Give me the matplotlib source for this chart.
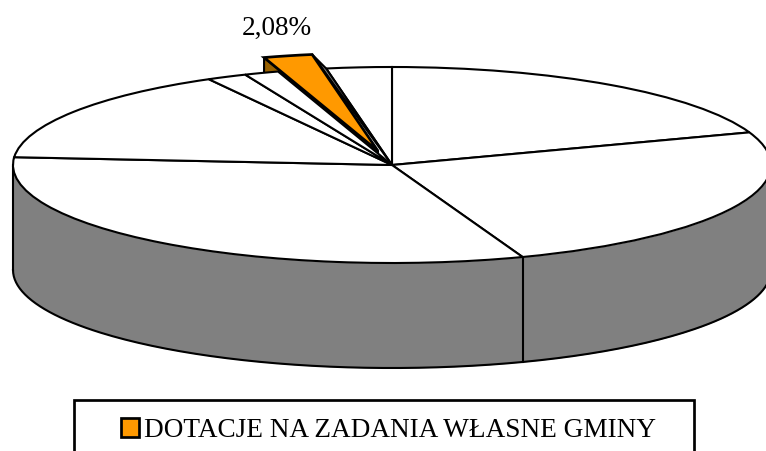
"""Exploded 3D-style pie with one highlighted slice, drawn from the slice shares."""
import matplotlib
matplotlib.use("Agg")
import matplotlib.pyplot as plt
import numpy as np
from matplotlib.patches import Patch, Polygon, Rectangle, Wedge
from matplotlib.transforms import Affine2D

plt.rcParams["font.family"] = ["Liberation Serif", "DejaVu Serif"]

# shares in percent, clockwise from 12 o'clock
shares = [19.6, 24.8, 31.87, 15.7, 1.7, 1.47, 2.08, 2.78]
highlight = 6
highlight_label = "2,08%"
legend_label = "DOTACJE NA ZADANIA WŁASNE GMINY"

W, H = 766, 451
CX, CY = 392, H - 165
RX, RY = 379, 98
DEPTH = 105
EXPLODE = (-14, 14)
LW = 1.5
FS = 19.6
ORANGE = "#FF9900"
BROWN = "#996100"
GREY = "#808080"

fig = plt.figure(figsize=(W / 100, H / 100), dpi=100)
ax = fig.add_axes([0, 0, 1, 1])
ax.set_xlim(0, W)
ax.set_ylim(0, H)
ax.axis("off")

edges = 90 - np.cumsum([0] + shares) * 3.6


def rim(t, dx=0, dy=0):
    t = np.radians(t)
    return CX + dx + RX * np.cos(t), CY + dy + RY * np.sin(t)


# side wall of the disc
t = np.linspace(180, 360, 200)
x, y = rim(t)
ax.fill_between(x, y - DEPTH, y, color=GREY, lw=0, zorder=1)
ax.plot(x, y - DEPTH, color="k", lw=LW, zorder=2)
ax.plot([x[0], x[0]], [y[0], y[0] - DEPTH], color="k", lw=LW, zorder=2)
for e in edges[1:-1]:
    if np.sin(np.radians(e)) < 0:
        ex, ey = rim(e)
        ax.plot([ex, ex], [ey, ey - DEPTH], color="k", lw=LW, zorder=2)

unit = Affine2D().scale(RX, RY).translate(CX, CY)
shift = Affine2D().translate(*EXPLODE)

# cut faces of the highlighted slice, the top faces hide most of them
t1, t2 = edges[highlight + 1], edges[highlight]
lx, ly = rim(t2, *EXPLODE)
ax_, ay_ = CX + EXPLODE[0], CY + EXPLODE[1]
ax.add_patch(Polygon([(lx, ly), (lx, ly - DEPTH), (ax_, ay_ - DEPTH), (ax_, ay_)],
                     fc=BROWN, ec="k", lw=LW, zorder=2))
ox, oy = rim(t1, *EXPLODE)

# top faces
for i, (a, b) in enumerate(zip(edges[1:], edges[:-1])):
    if i == highlight:
        continue
    ax.add_patch(Wedge((0, 0), 1, a, b, fc="white", ec="k", lw=LW,
                       transform=unit + ax.transData, zorder=4))
gx, gy = rim(t1)
ax.add_patch(Polygon([(gx, gy), (CX, CY), (ox, oy)], fc=GREY, ec="k", lw=LW, zorder=4.5))
ax.add_patch(Wedge((0, 0), 1, t1, t2, fc=ORANGE, ec="k", lw=LW * 1.3,
                   transform=unit + shift + ax.transData, zorder=5))

ax.text(277, H - 28, highlight_label, fontsize=FS, ha="center", va="center", color="k")

# legend frame runs off the bottom of the picture
ax.add_patch(Rectangle((74, -20), 620, H - 400 + 20, fc="white", ec="k", lw=LW * 1.3, zorder=1))
ax.legend(handles=[Patch(fc=ORANGE, ec="k", lw=LW * 1.3, label=legend_label)],
          loc="upper left", bbox_to_anchor=(121, H - 418), bbox_transform=ax.transData,
          fontsize=FS, frameon=False, borderaxespad=0, borderpad=0,
          handlelength=0.65, handleheight=0.65, handletextpad=0.2)

fig.savefig("out.png", dpi=100)
